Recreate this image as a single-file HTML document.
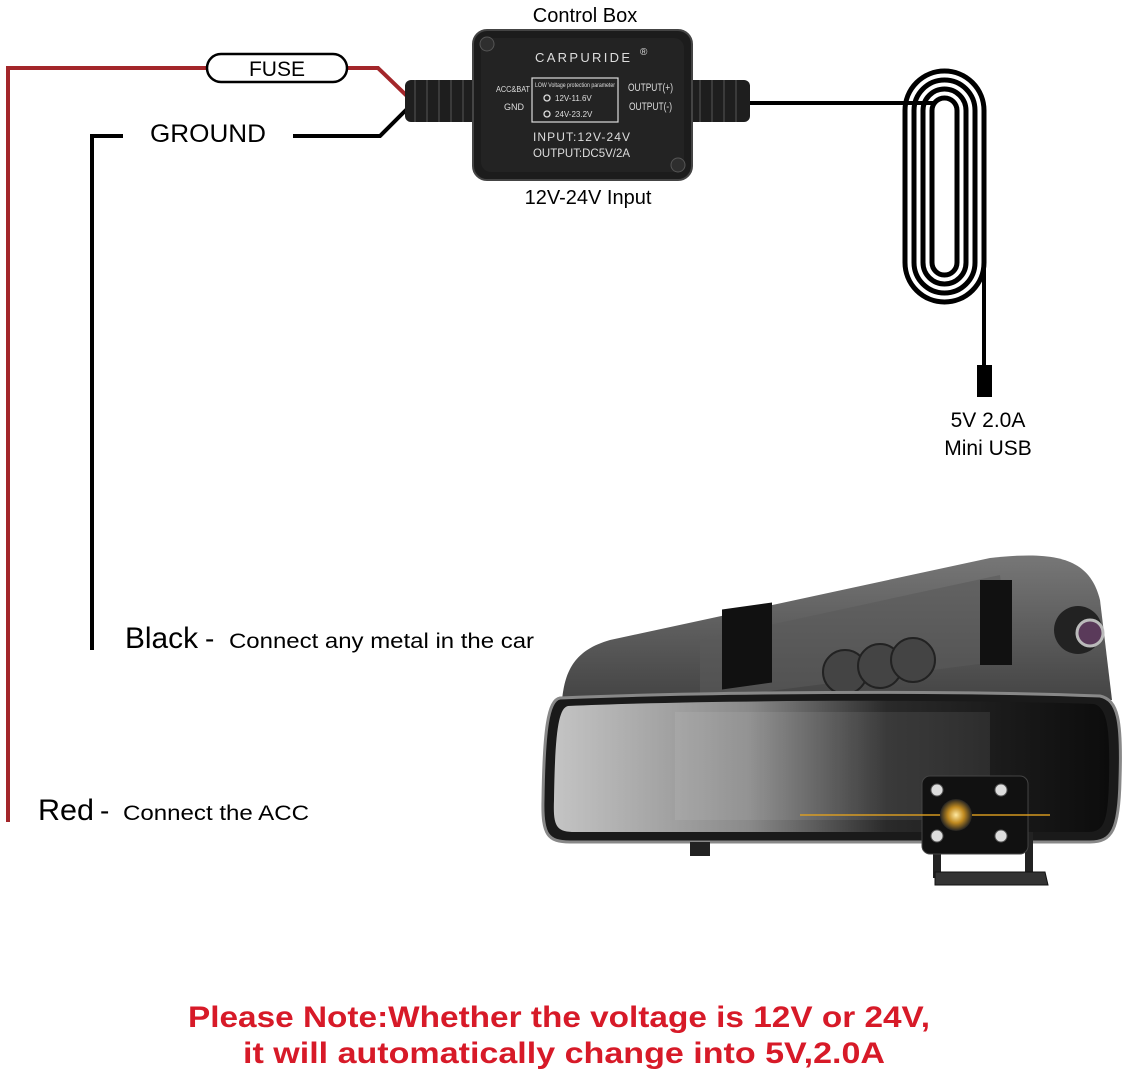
<!DOCTYPE html>
<html><head><meta charset="utf-8"><style>
html,body{margin:0;padding:0;background:#fff;}
svg{display:block;}
text{font-family:"Liberation Sans",sans-serif;}
</style></head><body>
<svg width="1128" height="1080" viewBox="0 0 1128 1080" xmlns="http://www.w3.org/2000/svg">
<defs>
<linearGradient id="scr" x1="0" x2="1" y1="0" y2="0">
<stop offset="0" stop-color="#c4c4c4"/><stop offset="0.35" stop-color="#8a8a8a"/><stop offset="0.6" stop-color="#2a2a2a"/><stop offset="1" stop-color="#0c0c0c"/>
</linearGradient>
<linearGradient id="back" x1="0" x2="0" y1="0" y2="1">
<stop offset="0" stop-color="#777"/><stop offset="1" stop-color="#444"/>
</linearGradient>
<radialGradient id="lens"><stop offset="0" stop-color="#ffe9a0"/><stop offset="0.5" stop-color="#c08a20"/><stop offset="1" stop-color="#222"/></radialGradient>
</defs>

<polyline points="8,822 8,68 207,68" fill="none" stroke="#a3262a" stroke-width="4"/>
<polyline points="347,68 378,68 408,97" fill="none" stroke="#a3262a" stroke-width="4"/>
<rect x="207" y="54" width="140" height="28" rx="14" fill="#fff" stroke="#000" stroke-width="2.5"/>
<text x="277" y="76" font-size="21" text-anchor="middle">FUSE</text>

<polyline points="92,650 92,136 123,136" fill="none" stroke="#000" stroke-width="4"/>
<polyline points="293,136 380,136 408,108" fill="none" stroke="#000" stroke-width="4"/>
<text x="150" y="142" font-size="25" textLength="116" lengthAdjust="spacingAndGlyphs">GROUND</text>

<rect x="405" y="80" width="75" height="42" rx="6" fill="#1e1e1e"/>
<g stroke="#3a3a3a" stroke-width="2">
<line x1="415" y1="80" x2="415" y2="122"/><line x1="427" y1="80" x2="427" y2="122"/><line x1="439" y1="80" x2="439" y2="122"/><line x1="451" y1="80" x2="451" y2="122"/><line x1="463" y1="80" x2="463" y2="122"/>
</g>
<rect x="685" y="80" width="65" height="42" rx="6" fill="#1e1e1e"/>
<g stroke="#3a3a3a" stroke-width="2">
<line x1="700" y1="80" x2="700" y2="122"/><line x1="712" y1="80" x2="712" y2="122"/><line x1="724" y1="80" x2="724" y2="122"/><line x1="736" y1="80" x2="736" y2="122"/>
</g>
<rect x="473" y="30" width="219" height="150" rx="14" fill="#1c1c1c" stroke="#444" stroke-width="2"/>
<rect x="481" y="38" width="203" height="134" rx="10" fill="#232323"/>
<circle cx="487" cy="44" r="7" fill="#2e2e2e" stroke="#555"/>
<circle cx="678" cy="165" r="7" fill="#2e2e2e" stroke="#555"/>
<text x="535" y="62" font-size="13" fill="#ddd" textLength="95">CARPURIDE</text>
<text x="640" y="55" font-size="10" fill="#ddd">®</text>
<rect x="532" y="78" width="86" height="44" fill="none" stroke="#ddd" stroke-width="1.2"/>
<text x="535" y="87" font-size="6" fill="#ddd" textLength="80" lengthAdjust="spacingAndGlyphs">LOW Voltage protection parameter</text>
<circle cx="547" cy="98" r="3" fill="none" stroke="#ddd" stroke-width="1.3"/>
<text x="555" y="101" font-size="8" fill="#ddd">12V-11.6V</text>
<circle cx="547" cy="114" r="3" fill="none" stroke="#ddd" stroke-width="1.3"/>
<text x="555" y="117" font-size="8" fill="#ddd">24V-23.2V</text>
<text x="496" y="92" font-size="8" fill="#ddd" textLength="34" lengthAdjust="spacingAndGlyphs">ACC&amp;BAT</text>
<text x="504" y="110" font-size="9" fill="#ddd">GND</text>
<text x="628" y="91" font-size="11" fill="#ddd" textLength="45" lengthAdjust="spacingAndGlyphs">OUTPUT(+)</text>
<text x="629" y="110" font-size="11" fill="#ddd" textLength="43" lengthAdjust="spacingAndGlyphs">OUTPUT(-)</text>
<text x="533" y="141" font-size="12" fill="#ddd" textLength="97">INPUT:12V-24V</text>
<text x="533" y="157" font-size="12" fill="#ddd" textLength="97" lengthAdjust="spacingAndGlyphs">OUTPUT:DC5V/2A</text>

<text x="585" y="22" font-size="20" text-anchor="middle">Control Box</text>
<text x="588" y="204" font-size="20" text-anchor="middle">12V-24V Input</text>

<line x1="750" y1="103" x2="935" y2="103" stroke="#000" stroke-width="4"/>
<g fill="none" stroke="#000" stroke-width="5">
<rect x="905" y="71" width="79" height="231" rx="39.5"/>
<rect x="914" y="80" width="61" height="213" rx="30.5"/>
<rect x="923" y="89" width="43" height="195" rx="21.5"/>
<rect x="932" y="98" width="25" height="177" rx="12.5"/>
</g>
<polyline points="984,250 984,365" fill="none" stroke="#000" stroke-width="4"/>
<rect x="977" y="365" width="15" height="32" fill="#000"/>
<text x="988" y="427" font-size="21" text-anchor="middle">5V 2.0A</text>
<text x="988" y="455" font-size="21" text-anchor="middle">Mini USB</text>

<text x="125" y="648" font-size="30" textLength="73" lengthAdjust="spacingAndGlyphs">Black</text>
<text x="205" y="648" font-size="28">-</text>
<text x="229" y="648" font-size="21" textLength="305" lengthAdjust="spacingAndGlyphs">Connect any metal in the car</text>
<text x="38" y="820" font-size="30" textLength="56" lengthAdjust="spacingAndGlyphs">Red</text>
<text x="100" y="820" font-size="28">-</text>
<text x="123" y="820" font-size="21" textLength="186" lengthAdjust="spacingAndGlyphs">Connect the ACC</text>

<path d="M562,700 C565,670 575,650 610,640 L990,558 C1060,550 1090,560 1100,600 L1112,700 Z" fill="url(#back)"/>
<path d="M700,640 L1000,575 L1010,660 L700,700 Z" fill="#5a5a5a" opacity="0.6"/>
<rect x="722" y="608" width="50" height="80" fill="#111" transform="skewY(-8) translate(0,103)"/>
<rect x="980" y="580" width="32" height="85" fill="#111"/>
<circle cx="845" cy="672" r="22" fill="#444" stroke="#222" stroke-width="2"/>
<circle cx="880" cy="666" r="22" fill="#444" stroke="#222" stroke-width="2"/>
<circle cx="913" cy="660" r="22" fill="#444" stroke="#222" stroke-width="2"/>
<circle cx="1078" cy="630" r="24" fill="#222"/>
<circle cx="1090" cy="633" r="13" fill="#5a3a5a" stroke="#bbb" stroke-width="3"/>
<path d="M560,698 C700,692 950,690 1100,696 C1118,700 1122,720 1120,780 C1119,830 1112,842 1090,842 L570,842 C548,842 542,835 543,800 C544,730 548,700 560,698 Z" fill="#1a1a1a" stroke="#888" stroke-width="3"/>
<path d="M568,706 C700,700 950,699 1094,704 C1108,708 1110,730 1109,780 C1108,822 1104,832 1088,832 L575,832 C556,832 553,826 554,800 C555,735 558,708 568,706 Z" fill="url(#scr)"/>
<rect x="675" y="712" width="315" height="108" fill="#fff" opacity="0.08"/>
<rect x="690" y="842" width="20" height="14" fill="#222"/>
<rect x="933" y="843" width="8" height="35" fill="#222"/>
<rect x="1025" y="832" width="8" height="46" fill="#222"/>
<path d="M935,872 L1045,872 L1048,885 L935,885 Z" fill="#333" stroke="#111"/>
<rect x="922" y="776" width="106" height="78" rx="8" fill="#111" stroke="#444"/>
<line x1="800" y1="815" x2="1050" y2="815" stroke="#e0a020" stroke-width="2" opacity="0.7"/>
<circle cx="956" cy="815" r="16" fill="url(#lens)"/>
<circle cx="937" cy="790" r="6" fill="#ddd" stroke="#555"/>
<circle cx="1001" cy="790" r="6" fill="#ddd" stroke="#555"/>
<circle cx="937" cy="836" r="6" fill="#ddd" stroke="#555"/>
<circle cx="1001" cy="836" r="6" fill="#ddd" stroke="#555"/>

<text x="188" y="1027" font-size="30" font-weight="bold" fill="#d71a28" textLength="742" lengthAdjust="spacingAndGlyphs">Please Note:Whether the voltage is 12V or 24V,</text>
<text x="243" y="1063" font-size="30" font-weight="bold" fill="#d71a28" textLength="642" lengthAdjust="spacingAndGlyphs">it will automatically change into 5V,2.0A</text>
</svg>
</body></html>
